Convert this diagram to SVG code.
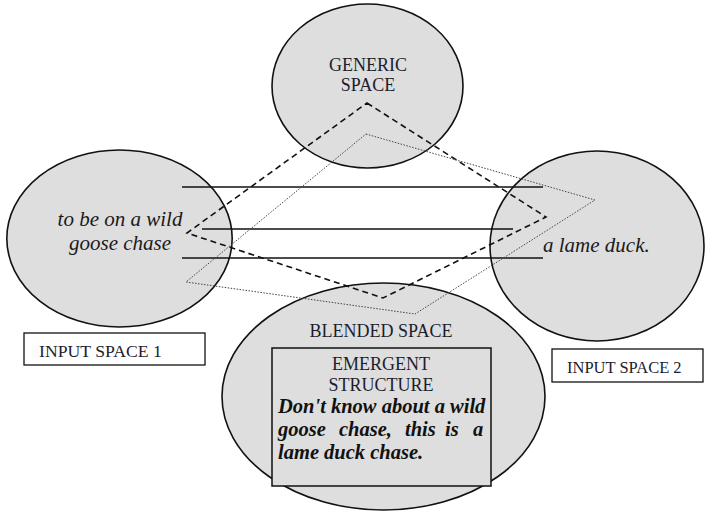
<svg xmlns="http://www.w3.org/2000/svg" width="705" height="512" viewBox="0 0 705 512">
<style>
.sp{fill:#dedede;stroke:#111;stroke-width:1.6}
.box{fill:#fff;stroke:#111;stroke-width:1.3}
.ebox{fill:#dedede;stroke:#111;stroke-width:1.5}
.cap{font-family:'Liberation Serif','Tinos','DejaVu Serif','Noto Serif',serif;fill:#1c1d2c}
.it{font-family:'Liberation Serif','Tinos','DejaVu Serif','Noto Serif',serif;font-style:italic;font-size:21px;fill:#1a1a1a}
.bi{font-family:'Liberation Serif','Tinos','DejaVu Serif','Noto Serif',serif;font-style:italic;font-weight:bold;font-size:20.5px;fill:#111}
.solid{stroke:#111;stroke-width:1.6;fill:none}
.dash{stroke:#111;stroke-width:1.6;fill:none;stroke-dasharray:6 4}
.dot{stroke:#444;stroke-width:1;fill:none;stroke-dasharray:1.5 1.5}
</style>
<rect width="705" height="512" fill="#fff"/>
<g id="generic-space">
<ellipse class="sp" cx="367.5" cy="86" rx="95.5" ry="82"/>
<text class="cap" font-size="18" text-anchor="middle" x="368" y="71">GENERIC</text>
<text class="cap" font-size="18" text-anchor="middle" x="368" y="91">SPACE</text>
</g>
<g id="input-space-1">
<ellipse class="sp" cx="119.5" cy="238.5" rx="112.7" ry="88.5"/>
<text class="it" text-anchor="middle" x="120" y="226">to be on a wild</text>
<text class="it" text-anchor="middle" x="120" y="250">goose chase</text>
</g>
<g id="input-space-2">
<ellipse class="sp" cx="597" cy="246" rx="107" ry="95"/>
<text class="it" x="543" y="252">a lame duck.</text>
</g>
<g id="blended-space">
<ellipse class="sp" cx="383.5" cy="396.5" rx="161.5" ry="113.5"/>
<text class="cap" font-size="18" text-anchor="middle" x="381" y="337">BLENDED SPACE</text>
</g>
<g id="emergent-structure">
<rect class="ebox" x="272" y="348" width="219" height="138"/>
<text class="cap" font-size="18" text-anchor="middle" x="381" y="370">EMERGENT</text>
<text class="cap" font-size="18" text-anchor="middle" x="381" y="391">STRUCTURE</text>
<text class="bi" x="278" y="413">Don't know about a wild</text>
<text class="bi" y="436"><tspan x="278">goose</tspan><tspan x="339">chase,</tspan><tspan x="405">this</tspan><tspan x="445">is</tspan><tspan x="473">a</tspan></text>
<text class="bi" x="278" y="459">lame duck chase.</text>
</g>
<g id="input-space-1-label">
<rect class="box" x="24" y="333" width="181" height="32"/>
<text class="cap" font-size="17.7" x="39" y="357">INPUT SPACE 1</text>
</g>
<g id="input-space-2-label">
<rect class="box" x="552" y="349" width="151" height="33"/>
<text class="cap" font-size="16.5" x="567" y="373">INPUT SPACE 2</text>
</g>
<g id="connectors">
<line class="solid" x1="182" y1="187" x2="543" y2="187"/>
<line class="solid" x1="202" y1="229" x2="513" y2="229"/>
<line class="solid" x1="182" y1="258" x2="543" y2="258"/>
<polygon class="dash" points="367,103 546,217 383,298 187,233"/>
<polygon class="dot" points="366,134 595,200 415,314 186,282"/>
</g>
</svg>
